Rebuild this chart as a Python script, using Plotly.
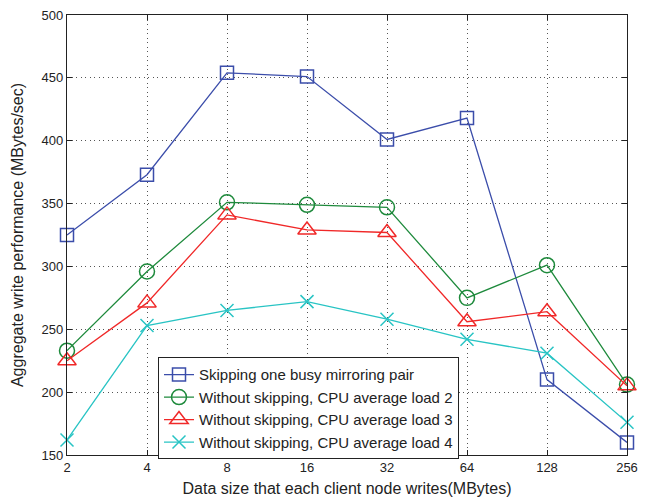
import math
import plotly.graph_objects as go

sizes = [2, 4, 8, 16, 32, 64, 128, 256]
tick_labels = ["2", "4", "8", "16", "32", "64", "128", "256"]
skipping = [325, 373, 454, 451, 401, 418, 210, 160]
load2 = [233, 296, 351, 349, 347, 275, 301, 206]
load3 = [225, 271, 341, 329, 327, 256, 264, 205]
load4 = [162, 253, 265, 272, 258, 242, 231, 176]

names = ["Skipping one busy mirroring pair",
         "Without skipping, CPU average load 2",
         "Without skipping, CPU average load 3",
         "Without skipping, CPU average load 4"]
colors = ["#3B4DAA", "#1E8A3C", "#F02828", "#28C4C4"]
symbols = ["square-open", "circle-open", "triangle-up-open", "x-thin-open"]
msizes = [13, 15, 16, 13]

fig = go.Figure()
for ys, nm, c, s, ms in zip([skipping, load2, load3, load4], names, colors, symbols, msizes):
    fig.add_trace(go.Scatter(
        x=sizes, y=ys, name=nm, mode="lines+markers",
        line=dict(color=c, width=1.3),
        marker=dict(symbol=s, size=ms, color=c, line=dict(color=c, width=1.5)),
        cliponaxis=False))

axis_common = dict(
    showline=True, linecolor="#222", linewidth=1.2, mirror="ticks",
    ticks="inside", ticklen=5, tickcolor="#222",
    showgrid=True, gridcolor="#555", griddash="1px,3.5px", gridwidth=1.2,
    zeroline=False, tickfont=dict(size=13, color="#222"), automargin=False,
    ticklabeloverflow="allow",
)
eps = 1e-5
fig.update_xaxes(type="log", range=[math.log10(sizes[0]) - eps, math.log10(sizes[-1]) + eps],
                 tickvals=sizes, ticktext=tick_labels,
                 title=dict(text="Data size that each client node writes(MBytes)",
                            font=dict(size=16, color="#222"), standoff=9),
                 **axis_common)
fig.update_yaxes(range=[150, 500], tickvals=[150, 200, 250, 300, 350, 400, 450, 500],
                 title=dict(text="Aggregate write performance (MBytes/sec)",
                            font=dict(size=16, color="#222"), standoff=13),
                 **axis_common)
# page body has an 8px margin; the figure is sized so that it fits the 646x498 window
fig.update_layout(
    width=638, height=490,
    margin=dict(l=59, r=19, t=7, b=43),
    paper_bgcolor="white", plot_bgcolor="white",
    font=dict(family="Liberation Sans, Arial, sans-serif", color="#222"),
    legend=dict(x=0.1625, y=0.222, xanchor="left", yanchor="top",
                bgcolor="white", bordercolor="#222", borderwidth=1,
                font=dict(size=15, color="#222"), tracegroupgap=0),
    showlegend=True,
)
fig.write_html("out.html")
